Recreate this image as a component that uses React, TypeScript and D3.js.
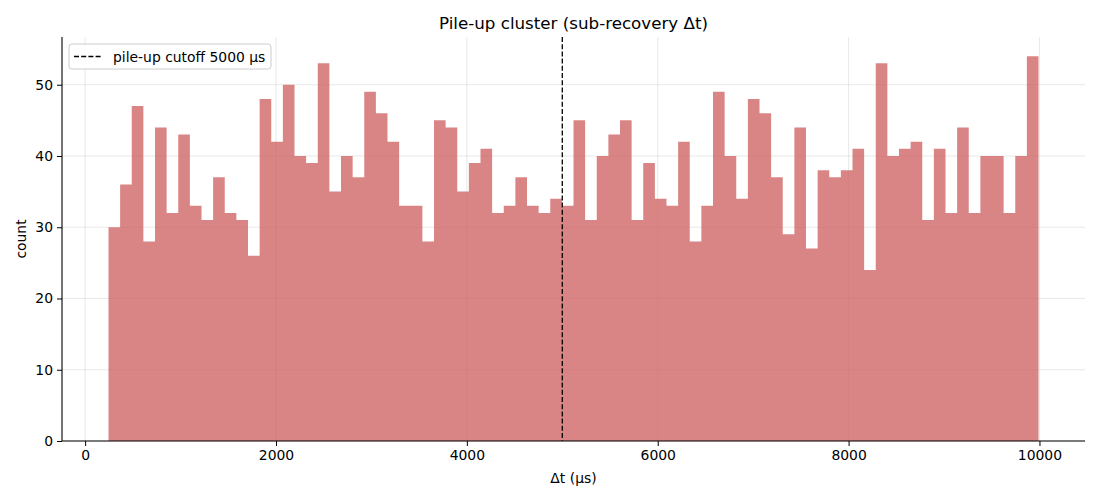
import { useEffect, useRef } from "react"
import * as d3 from "d3"

// histogram counts per bin (80 equal-width bins)
const counts = [
  30, 36, 47, 28, 44, 32, 43, 33, 31, 37,
  32, 31, 26, 48, 42, 50, 40, 39, 53, 35,
  40, 37, 49, 46, 42, 33, 33, 28, 45, 44,
  35, 39, 41, 32, 33, 37, 33, 32, 34, 33,
  45, 31, 40, 43, 45, 31, 39, 34, 33, 42,
  28, 33, 49, 40, 34, 48, 46, 37, 29, 44,
  27, 38, 37, 38, 41, 24, 53, 40, 41, 42,
  31, 41, 32, 44, 32, 40, 40, 32, 40, 54,
]
const dataRange = [245, 9990] // min / max Δt in µs
const cutoff = 5000
const xTicks = [0, 2000, 4000, 6000, 8000, 10000]
const yTicks = [0, 10, 20, 30, 40, 50]
const title = "Pile-up cluster (sub-recovery Δt)"
const xLabel = "Δt (µs)"
const yLabel = "count"
const legendLabel = "pile-up cutoff 5000 µs"

export default function App() {
  const svgRef = useRef<SVGSVGElement>(null)

  useEffect(() => {
    if (!svgRef.current) return
    document.body.style.margin = "0"

    const svg = d3.select(svgRef.current)
    svg.selectAll("*").remove()

    const width = 1100
    const height = 500
    const margin = { top: 37, right: 15, bottom: 59, left: 62 }
    const font = "DejaVu Sans, sans-serif"
    const fs = "13.9px"

    // bin edges from the data range
    const edge = d3.scaleLinear().domain([0, counts.length]).range(dataRange)
    const span = dataRange[1] - dataRange[0]
    const x = d3
      .scaleLinear()
      .domain([dataRange[0] - span * 0.05, dataRange[1] + span * 0.05])
      .range([margin.left, width - margin.right])
    const yMax = d3.max(counts)! * 1.05
    const y = d3
      .scaleLinear()
      .domain([0, yMax])
      .range([height - margin.bottom, margin.top])

    const g = svg.append("g").style("font-family", font)

    // grid
    g.append("g")
      .selectAll("line")
      .data(xTicks)
      .join("line")
      .attr("x1", (d) => x(d))
      .attr("x2", (d) => x(d))
      .attr("y1", margin.top)
      .attr("y2", height - margin.bottom)
      .attr("stroke", "#b0b0b0")
      .attr("stroke-opacity", 0.35)
      .attr("stroke-width", 0.8)
    g.append("g")
      .selectAll("line")
      .data(yTicks)
      .join("line")
      .attr("x1", margin.left)
      .attr("x2", width - margin.right)
      .attr("y1", (d) => y(d))
      .attr("y2", (d) => y(d))
      .attr("stroke", "#b0b0b0")
      .attr("stroke-opacity", 0.35)
      .attr("stroke-width", 0.8)

    // bars as one stepped shape, so the translucent fill has no seams
    const steps = counts.map((c, i) => ({ x0: edge(i), c }))
    steps.push({ x0: edge(counts.length), c: counts[counts.length - 1] })
    const area = d3
      .area<{ x0: number; c: number }>()
      .x((d) => x(d.x0))
      .y0(y(0))
      .y1((d) => y(d.c))
      .curve(d3.curveStepAfter)
    g.append("path")
      .attr("d", area(steps))
      .attr("fill", "#cd5c5c")
      .attr("fill-opacity", 0.75)

    // cutoff line
    g.append("line")
      .attr("x1", x(cutoff))
      .attr("x2", x(cutoff))
      .attr("y1", margin.top)
      .attr("y2", height - margin.bottom)
      .attr("stroke", "#000")
      .attr("stroke-width", 1.3)
      .attr("stroke-dasharray", "5,2.2")

    // axes
    const xAxis = g
      .append("g")
      .attr("transform", `translate(0,${height - margin.bottom})`)
      .call(d3.axisBottom(x).tickValues(xTicks).tickFormat(d3.format("d")).tickSize(5).tickPadding(4))
    const yAxis = g
      .append("g")
      .attr("transform", `translate(${margin.left},0)`)
      .call(d3.axisLeft(y).tickValues(yTicks).tickFormat(d3.format("d")).tickSize(5).tickPadding(4))
    for (const ax of [xAxis, yAxis]) {
      ax.select(".domain").attr("stroke", "#000").attr("stroke-width", 1.1)
      ax.selectAll(".tick line").attr("stroke", "#000").attr("stroke-width", 1)
      ax.selectAll(".tick text")
        .attr("fill", "#000")
        .style("font-size", fs)
        .style("font-family", font)
    }
    xAxis.select(".domain").attr("d", `M${margin.left},0H${width - margin.right}`)
    yAxis.select(".domain").attr("d", `M0,${height - margin.bottom}V${margin.top}`)

    // labels
    g.append("text")
      .attr("x", (margin.left + width - margin.right) / 2)
      .attr("y", 29)
      .attr("text-anchor", "middle")
      .style("font-size", "16.7px")
      .text(title)
    g.append("text")
      .attr("x", (margin.left + width - margin.right) / 2)
      .attr("y", 483)
      .attr("text-anchor", "middle")
      .style("font-size", fs)
      .text(xLabel)
    g.append("text")
      .attr("transform", `translate(26,${(margin.top + height - margin.bottom) / 2}) rotate(-90)`)
      .attr("text-anchor", "middle")
      .style("font-size", fs)
      .text(yLabel)

    // legend
    const leg = g.append("g").attr("transform", `translate(${margin.left + 7},${margin.top + 7})`)
    leg.append("rect")
      .attr("width", 202)
      .attr("height", 25)
      .attr("rx", 3)
      .attr("fill", "#fff")
      .attr("fill-opacity", 0.8)
      .attr("stroke", "#cccccc")
      .attr("stroke-width", 1)
    leg.append("line")
      .attr("x1", 5)
      .attr("x2", 33)
      .attr("y1", 12.5)
      .attr("y2", 12.5)
      .attr("stroke", "#000")
      .attr("stroke-width", 1.3)
      .attr("stroke-dasharray", "5,2.2")
    leg.append("text")
      .attr("x", 44)
      .attr("y", 17.5)
      .style("font-size", fs)
      .text(legendLabel)
  }, [])

  return <svg ref={svgRef} width={1100} height={500} style={{ display: "block" }}></svg>
}
